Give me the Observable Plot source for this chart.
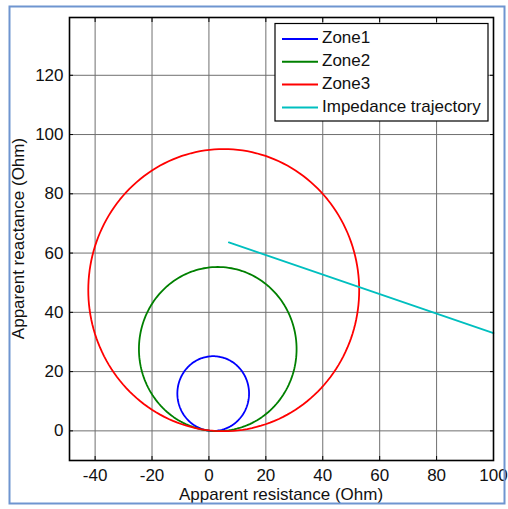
<!DOCTYPE html>
<html>
<head>
<meta charset="utf-8">
<script src="https://cdn.jsdelivr.net/npm/d3@7"></script>
<script src="https://cdn.jsdelivr.net/npm/@observablehq/plot@0.6"></script>
<style>
  html, body { margin: 0; padding: 0; background: #fff; }
  #chart { position: relative; width: 508px; height: 509px; }
  svg { font-family: "Liberation Sans", Arial, sans-serif; }
</style>
</head>
<body>
<div id="chart"></div>
<script>
// ---- data ----
const zoneNames = ["Zone1", "Zone2", "Zone3"];
const zoneColors = ["#0000ff", "#008000", "#ff0000"];
const zoneCenterX = [1.5, 3.1, 5.2];
const zoneCenterY = [12.6, 27.6, 47.5];
const zoneRadius = [12.6, 27.7, 47.6];

const trajName = "Impedance trajectory";
const trajColor = "#00bfbf";
const trajR = [7.0, 100];
const trajX = [63.6, 33.0];

const xTicks = [-40, -20, 0, 20, 40, 60, 80, 100];
const yTicks = [0, 20, 40, 60, 80, 100, 120];
const xLabel = "Apparent resistance (Ohm)";
const yLabel = "Apparent reactance (Ohm)";

// ---- build circle outlines from centre / radius ----
const circlePts = [];
zoneNames.forEach((name, i) => {
  d3.range(0, 361, 2).forEach(a => {
    const t = a * Math.PI / 180;
    circlePts.push({zone: name, r: zoneCenterX[i] + zoneRadius[i] * Math.cos(t), x: zoneCenterY[i] + zoneRadius[i] * Math.sin(t)});
  });
});
const trajPts = trajR.map((r, i) => ({zone: trajName, r, x: trajX[i]}));

const allNames = [...zoneNames, trajName];
const allColors = [...zoneColors, trajColor];

const FS = 17;
const fmt = d => String(d);
const W = 508, H = 509;
const chart = Plot.plot({
  width: W,
  height: H,
  marginLeft: 69,
  marginRight: 15,
  marginTop: 17,
  marginBottom: 49,
  style: {fontSize: FS + "px", fontFamily: "Liberation Sans, Arial, sans-serif", background: "white", color: "#111"},
  x: {domain: [-49, 100], ticks: xTicks, label: null},
  y: {domain: [-10, 139.5], ticks: yTicks, label: null},
  color: {domain: allNames, range: allColors},
  marks: [
    Plot.ruleX(xTicks, {stroke: "#707070", strokeWidth: 1, strokeOpacity: 1}),
    Plot.ruleY(yTicks, {stroke: "#707070", strokeWidth: 1, strokeOpacity: 1}),
    Plot.axisX({ticks: xTicks, tickSize: 0, tickPadding: 8, fontSize: FS, label: null, tickFormat: fmt}),
    Plot.axisY({ticks: yTicks, tickSize: 0, tickPadding: 6, fontSize: FS, label: null, tickFormat: fmt}),
    Plot.axisX({ticks: xTicks, tickSize: -4, tickFormat: () => "", label: null, anchor: "bottom", stroke: "#000"}),
    Plot.axisX({ticks: xTicks, tickSize: -4, tickFormat: () => "", label: null, anchor: "top", stroke: "#000"}),
    Plot.axisY({ticks: yTicks, tickSize: -4, tickFormat: () => "", label: null, anchor: "left", stroke: "#000"}),
    Plot.axisY({ticks: yTicks, tickSize: -4, tickFormat: () => "", label: null, anchor: "right", stroke: "#000"}),
    Plot.line(circlePts, {x: "r", y: "x", z: "zone", stroke: "zone", strokeWidth: 1.8, curve: "linear"}),
    Plot.line(trajPts, {x: "r", y: "x", z: "zone", stroke: "zone", strokeWidth: 1.8}),
    Plot.frame({stroke: "#000", strokeWidth: 1.6})
  ]
});
document.getElementById("chart").appendChild(chart);

const svg = d3.select(chart);
// axis titles
svg.append("text")
  .attr("x", (69 + (W - 15)) / 2).attr("y", 496)
  .attr("text-anchor", "middle").attr("dominant-baseline", "middle")
  .attr("font-size", FS).attr("fill", "#111")
  .text(xLabel);
svg.append("text")
  .attr("transform", `translate(20, ${(17 + (H - 49)) / 2}) rotate(-90)`)
  .attr("text-anchor", "middle").attr("dominant-baseline", "middle")
  .attr("font-size", FS).attr("fill", "#111")
  .text(yLabel);

// legend
const lg = svg.append("g").attr("transform", "translate(275, 23.5)");
lg.append("rect").attr("width", 213).attr("height", 97.5)
  .attr("fill", "white").attr("stroke", "#000").attr("stroke-width", 1.2);
allNames.forEach((name, i) => {
  const y = 15.5 + i * 22.8;
  lg.append("line").attr("x1", 7).attr("x2", 43).attr("y1", y).attr("y2", y)
    .attr("stroke", allColors[i]).attr("stroke-width", 2);
  lg.append("text").attr("x", 47).attr("y", y)
    .attr("text-anchor", "start").attr("dominant-baseline", "middle")
    .attr("font-size", FS).attr("fill", "#111").text(name);
});

// outer figure border
svg.append("rect").attr("x", 9.5).attr("y", 6.5).attr("width", 495).attr("height", 497)
  .attr("fill", "none").attr("stroke", "#6f95d0").attr("stroke-width", 2);
</script>
</body>
</html>
